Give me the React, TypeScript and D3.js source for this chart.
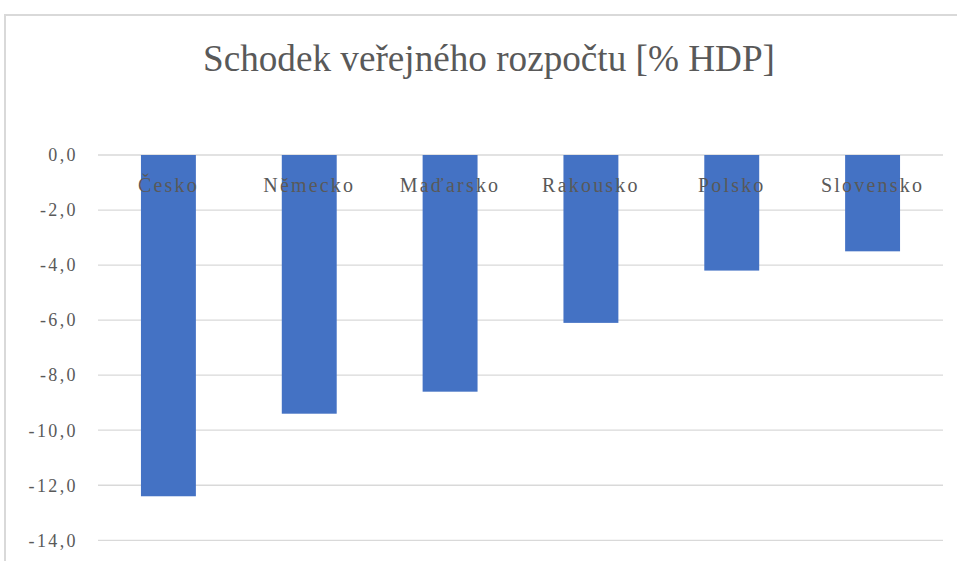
import React, { useEffect, useRef } from 'react';
import * as d3 from 'd3';

const categories = ['Česko', 'Německo', 'Maďarsko', 'Rakousko', 'Polsko', 'Slovensko'];
const deficit = [-12.4, -9.4, -8.6, -6.1, -4.2, -3.5];
const yTicks = [0, -2, -4, -6, -8, -10, -12, -14];
const title = 'Schodek veřejného rozpočtu [% HDP]';

export default function App() {
  const ref = useRef<SVGSVGElement>(null);

  useEffect(() => {
    const width = 957;
    const height = 561;
    const marginLeft = 98;
    const marginRight = 14; // plot ends at 943
    const y0 = 155; // 0 line
    const yBottom = 540.3; // -14 line
    const textColor = '#595959';
    const gridColor = '#d9d9d9';
    const font = "'Liberation Serif', 'DejaVu Serif', serif";

    const svg = d3.select(ref.current);
    svg.selectAll('*').remove();

    svg.append('rect').attr('width', width).attr('height', height).attr('fill', '#fff');

    // chart frame (left and top edges visible)
    svg
      .append('path')
      .attr('d', `M5,${height} L5,15 L${width},15`)
      .attr('fill', 'none')
      .attr('stroke', gridColor)
      .attr('stroke-width', 2);

    const x = d3
      .scaleBand<string>()
      .domain(categories)
      .range([marginLeft, width - marginRight])
      .paddingInner(0.61)
      .paddingOuter(0.305);

    const y = d3.scaleLinear().domain([0, -14]).range([y0, yBottom]);

    // gridlines + tick labels
    const axis = svg.append('g');
    axis
      .selectAll('line')
      .data(yTicks)
      .join('line')
      .attr('x1', marginLeft)
      .attr('x2', width - marginRight)
      .attr('y1', (d) => y(d))
      .attr('y2', (d) => y(d))
      .attr('stroke', gridColor)
      .attr('stroke-width', 1.3);

    axis
      .selectAll('text')
      .data(yTicks)
      .join('text')
      .attr('x', 78)
      .attr('y', (d) => y(d))
      .attr('dy', '0.35em')
      .attr('text-anchor', 'end')
      .style('font-family', font)
      .style('font-size', '18px')
      .style('letter-spacing', '2.4px')
      .attr('fill', textColor)
      .text((d) => d3.format('.1f')(d).replace('.', ',').replace('−', '-'));

    // bars
    svg
      .append('g')
      .selectAll('rect')
      .data(deficit)
      .join('rect')
      .attr('x', (_, i) => x(categories[i])!)
      .attr('width', x.bandwidth())
      .attr('y', y(0))
      .attr('height', (d) => y(d) - y(0))
      .attr('fill', '#4472c4');

    // category labels sit just under the zero line
    svg
      .append('g')
      .selectAll('text')
      .data(categories)
      .join('text')
      .attr('x', (d) => x(d)! + x.bandwidth() / 2)
      .attr('y', 192)
      .attr('text-anchor', 'middle')
      .style('font-family', font)
      .style('font-size', '20px')
      .style('letter-spacing', '2.2px')
      .attr('fill', textColor)
      .text((d) => d);

    svg
      .append('text')
      .attr('x', 203)
      .attr('y', 71)
      .attr('textLength', 572)
      .attr('lengthAdjust', 'spacingAndGlyphs')
      .style('font-family', font)
      .style('font-size', '37px')
      .attr('fill', textColor)
      .text(title);
  }, []);

  return (
    <svg
      ref={ref}
      width={957}
      height={561}
      style={{ position: 'absolute', left: 0, top: 0 }}
    />
  );
}
